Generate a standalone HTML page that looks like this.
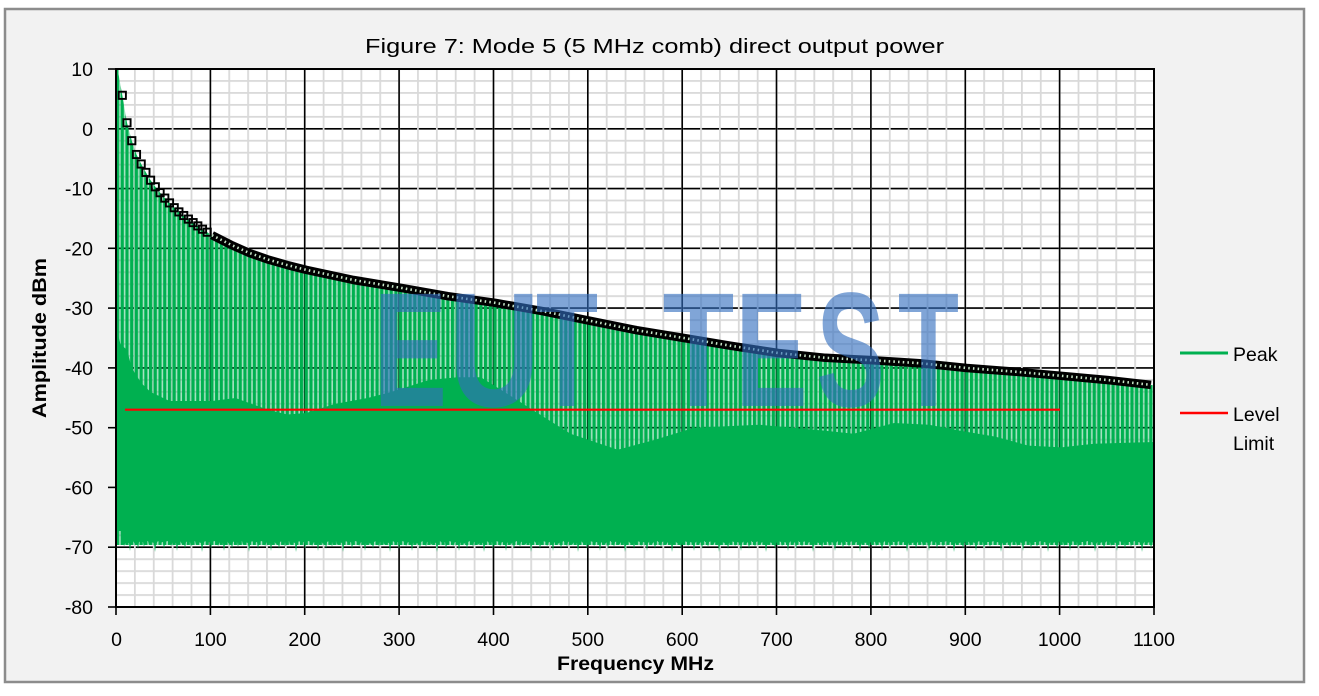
<!DOCTYPE html>
<html><head><meta charset="utf-8">
<style>
html,body{margin:0;padding:0;background:#fff;}
svg{display:block;}
text{font-family:"Liberation Sans",Arial,sans-serif;fill:#000;}
text.wm{fill:rgb(50,110,190);fill-opacity:0.62;font-weight:bold;font-size:163px;}
</style></head>
<body>
<svg width="1319" height="696" viewBox="0 0 1319 696" xmlns="http://www.w3.org/2000/svg">
<defs>
  <clipPath id="plot"><rect x="116" y="69" width="1038" height="538"/></clipPath>
  <pattern id="minorV" patternUnits="userSpaceOnUse" x="115.1" y="0" width="18.8727" height="700">
    <rect x="0" y="0" width="1.8" height="700" fill="#d9d9d9"/>
  </pattern>
  <pattern id="minorH" patternUnits="userSpaceOnUse" x="0" y="68.1" width="1400" height="11.9556">
    <rect x="0" y="0" width="1400" height="1.8" fill="#d9d9d9"/>
  </pattern>
  <pattern id="comb" patternUnits="userSpaceOnUse" x="116.0" y="0" width="4.7182" height="700">
    <rect x="0" y="0" width="4.7182" height="700" fill="#00b050" fill-opacity="0.36"/>
    <rect x="0" y="0" width="3.1" height="700" fill="#00b050"/>
  </pattern>
  <pattern id="teeth" patternUnits="userSpaceOnUse" x="0" y="538" width="47" height="20">
    <polygon fill="#00b050" points="0,0 47,0 47,3 45,4 44,11 43,4 41,6 39,3 37,5 36,13 35,5 32,4 30,8 29,4 26,3 24,5 23,11 22,4 19,5 17,3 15,6 14,14 13,5 10,4 8,7 7,3 4,4 3,9 2,4 0,4"/>
  </pattern>
</defs>

<!-- chart frame -->
<rect x="5" y="9" width="1299" height="673" fill="#f2f2f2" stroke="#8c8c8c" stroke-width="2.5"/>

<!-- plot area -->
<rect x="116" y="69" width="1038" height="538" fill="#ffffff"/>
<g clip-path="url(#plot)">
  <rect x="116" y="69" width="1038" height="538" fill="url(#minorH)"/>
  <g stroke="#000" stroke-width="1.6">
    <line x1="116" y1="128.8" x2="1154" y2="128.8"/>
    <line x1="116" y1="188.6" x2="1154" y2="188.6"/>
    <line x1="116" y1="248.3" x2="1154" y2="248.3"/>
    <line x1="116" y1="308.1" x2="1154" y2="308.1"/>
    <line x1="116" y1="367.9" x2="1154" y2="367.9"/>
    <line x1="116" y1="427.7" x2="1154" y2="427.7"/>
    <line x1="116" y1="487.4" x2="1154" y2="487.4"/>
    <line x1="116" y1="547.2" x2="1154" y2="547.2"/>
  </g>
  <rect x="116" y="69" width="1038" height="538" fill="url(#minorV)"/>
  <g stroke="#000" stroke-width="1.6">
    <line x1="210.4" y1="69" x2="210.4" y2="607"/>
    <line x1="304.7" y1="69" x2="304.7" y2="607"/>
    <line x1="399.1" y1="69" x2="399.1" y2="607"/>
    <line x1="493.5" y1="69" x2="493.5" y2="607"/>
    <line x1="587.8" y1="69" x2="587.8" y2="607"/>
    <line x1="682.2" y1="69" x2="682.2" y2="607"/>
    <line x1="776.5" y1="69" x2="776.5" y2="607"/>
    <line x1="870.9" y1="69" x2="870.9" y2="607"/>
    <line x1="965.3" y1="69" x2="965.3" y2="607"/>
    <line x1="1059.6" y1="69" x2="1059.6" y2="607"/>
  </g>

  <!-- comb spikes -->
  <polygon fill="url(#comb)" points="116,69 117.6,69 122.3,95.3 127,122.8 131.8,140.7 136.5,154.5 141.2,164 145.9,172.4 150.6,180.2 155.3,186.8 160.1,192.7 164.8,198.1 169.5,202.9 174.2,207.7 183.7,215.5 193.1,222.6 202.5,229.2 212,235.2 230.8,244.7 249.7,253.1 268.6,259.7 287.4,265.1 306.3,269.9 353.5,280 400.7,287.8 447.9,296.2 495,302.8 542.2,311.1 589.4,320.7 636.6,330.2 683.8,338 731,345.8 778.1,353 825.3,357.8 872.5,360.3 919.7,363.2 966.8,368 1014,371.6 1061.2,375.8 1108.4,380.1 1155.6,385.4 1155.6,545 116,545"/>
  <rect x="115.5" y="69" width="3" height="456" fill="#00b050"/>
  <!-- solid noise region -->
  <polygon fill="#00b050" points="116,326 120.4,344 127,350 131.8,368 141.2,383 150.6,392 169.5,401 212,401 235.5,398 268.6,410 287.4,414.5 306.3,413 334.6,404 367.6,398 391.2,392 429,380 457.3,377.3 480.9,377.3 504.5,392 532.8,410 570.5,433.7 617.7,449.8 655.5,439.6 694.1,427.7 759.3,424.7 825.3,430.7 853.6,433.7 894.2,423 929.1,424.7 960.2,430.7 995.2,436.6 1028.2,445.6 1061.2,447.4 1094.2,443.8 1154,442 1154,541 121,541 121,531 118,531 118,525 116,525"/>
  <rect x="121" y="538" width="1033" height="20" fill="url(#teeth)"/>

  <!-- limit line -->
  <line x1="125" y1="409.7" x2="1060" y2="409.7" stroke="#ff0000" stroke-width="2.2"/>

  <!-- peak markers -->
  <g fill="none" stroke="#000" stroke-width="1.9">
    <rect x="118.7" y="91.7" width="7.2" height="7.2"/>
    <rect x="123.4" y="119.2" width="7.2" height="7.2"/>
    <rect x="128.2" y="137.1" width="7.2" height="7.2"/>
    <rect x="132.9" y="150.9" width="7.2" height="7.2"/>
    <rect x="137.6" y="160.4" width="7.2" height="7.2"/>
    <rect x="142.3" y="168.8" width="7.2" height="7.2"/>
    <rect x="147" y="176.6" width="7.2" height="7.2"/>
    <rect x="151.7" y="183.2" width="7.2" height="7.2"/>
    <rect x="156.5" y="189.1" width="7.2" height="7.2"/>
    <rect x="161.2" y="194.5" width="7.2" height="7.2"/>
    <rect x="165.9" y="199.3" width="7.2" height="7.2"/>
    <rect x="170.6" y="204.1" width="7.2" height="7.2"/>
    <rect x="175.3" y="208.3" width="7.2" height="7.2"/>
    <rect x="180.1" y="211.9" width="7.2" height="7.2"/>
    <rect x="184.8" y="215.5" width="7.2" height="7.2"/>
    <rect x="189.5" y="219" width="7.2" height="7.2"/>
    <rect x="194.2" y="222.3" width="7.2" height="7.2"/>
    <rect x="198.9" y="225.6" width="7.2" height="7.2"/>
    <rect x="203.6" y="228.6" width="7.2" height="7.2"/>
  </g>
  <polyline fill="none" stroke="#000" stroke-width="8.5" stroke-linejoin="round" points="212,235.2 230.8,244.7 249.7,253.1 268.6,259.7 287.4,265.1 306.3,269.9 353.5,280 400.7,287.8 447.9,296.2 495,302.8 542.2,311.1 589.4,320.7 636.6,330.2 683.8,338 731,345.8 778.1,353 825.3,357.8 872.5,360.3 919.7,363.2 966.8,368 1014,371.6 1061.2,375.8 1108.4,380.1 1151,384.9"/>
  <polyline fill="none" stroke="#c8e6c9" stroke-width="2.6" stroke-dasharray="1.5 3.2" points="212,235.2 230.8,244.7 249.7,253.1 268.6,259.7 287.4,265.1 306.3,269.9 353.5,280 400.7,287.8 447.9,296.2 495,302.8 542.2,311.1 589.4,320.7 636.6,330.2 683.8,338 731,345.8 778.1,353 825.3,357.8 872.5,360.3 919.7,363.2 966.8,368 1014,371.6 1061.2,375.8 1108.4,380.1 1151,384.9"/>
</g>

<!-- plot border -->
<rect x="116" y="69" width="1038" height="538" fill="none" stroke="#000" stroke-width="2"/>

<!-- ticks -->
<g stroke="#000" stroke-width="1.6">
  <line x1="108" y1="69" x2="116" y2="69"/>
  <line x1="108" y1="128.8" x2="116" y2="128.8"/>
  <line x1="108" y1="188.6" x2="116" y2="188.6"/>
  <line x1="108" y1="248.3" x2="116" y2="248.3"/>
  <line x1="108" y1="308.1" x2="116" y2="308.1"/>
  <line x1="108" y1="367.9" x2="116" y2="367.9"/>
  <line x1="108" y1="427.7" x2="116" y2="427.7"/>
  <line x1="108" y1="487.4" x2="116" y2="487.4"/>
  <line x1="108" y1="547.2" x2="116" y2="547.2"/>
  <line x1="108" y1="607" x2="116" y2="607"/>
  <line x1="116" y1="607" x2="116" y2="615"/>
  <line x1="210.4" y1="607" x2="210.4" y2="615"/>
  <line x1="304.7" y1="607" x2="304.7" y2="615"/>
  <line x1="399.1" y1="607" x2="399.1" y2="615"/>
  <line x1="493.5" y1="607" x2="493.5" y2="615"/>
  <line x1="587.8" y1="607" x2="587.8" y2="615"/>
  <line x1="682.2" y1="607" x2="682.2" y2="615"/>
  <line x1="776.5" y1="607" x2="776.5" y2="615"/>
  <line x1="870.9" y1="607" x2="870.9" y2="615"/>
  <line x1="965.3" y1="607" x2="965.3" y2="615"/>
  <line x1="1059.6" y1="607" x2="1059.6" y2="615"/>
  <line x1="1154" y1="607" x2="1154" y2="615"/>
</g>

<!-- y labels -->
<g font-size="19.5" text-anchor="end">
  <text x="93" y="76">10</text>
  <text x="93" y="135.8">0</text>
  <text x="93" y="195.6">-10</text>
  <text x="93" y="255.3">-20</text>
  <text x="93" y="315.1">-30</text>
  <text x="93" y="374.9">-40</text>
  <text x="93" y="434.7">-50</text>
  <text x="93" y="494.4">-60</text>
  <text x="93" y="554.2">-70</text>
  <text x="93" y="614">-80</text>
</g>
<!-- x labels -->
<g font-size="19.5" text-anchor="middle">
  <text x="116.5" y="646">0</text>
  <text x="210.4" y="646">100</text>
  <text x="304.7" y="646">200</text>
  <text x="399.1" y="646">300</text>
  <text x="493.5" y="646">400</text>
  <text x="587.8" y="646">500</text>
  <text x="682.2" y="646">600</text>
  <text x="776.5" y="646">700</text>
  <text x="870.9" y="646">800</text>
  <text x="965.3" y="646">900</text>
  <text x="1059.6" y="646">1000</text>
  <text x="1154" y="646">1100</text>
</g>

<!-- titles -->
<text x="365" y="53" font-size="20.5" textLength="579" lengthAdjust="spacingAndGlyphs">Figure 7: Mode 5 (5 MHz comb) direct output power</text>
<text x="557" y="670" font-size="19" font-weight="bold" textLength="157" lengthAdjust="spacingAndGlyphs">Frequency MHz</text>
<text transform="translate(46,338) rotate(-90)" x="0" y="0" font-size="19" font-weight="bold" text-anchor="middle" textLength="160" lengthAdjust="spacingAndGlyphs">Amplitude dBm</text>

<!-- legend -->
<line x1="1180" y1="353" x2="1228" y2="353" stroke="#00b050" stroke-width="3"/>
<text x="1233" y="361" font-size="19.5">Peak</text>
<line x1="1180" y1="413" x2="1228" y2="413" stroke="#ff0000" stroke-width="2.5"/>
<text x="1233" y="421" font-size="19.5">Level</text>
<text x="1233" y="450" font-size="19.5">Limit</text>

<!-- watermark -->
<text class="wm" x="373.4" y="406" textLength="73.7" lengthAdjust="spacingAndGlyphs">E</text>
<text class="wm" x="448.8" y="406" textLength="91.3" lengthAdjust="spacingAndGlyphs">U</text>
<text class="wm" x="535.9" y="406" textLength="62.2" lengthAdjust="spacingAndGlyphs">T</text>
<text class="wm" x="662.5" y="406" textLength="71.8" lengthAdjust="spacingAndGlyphs">T</text>
<text class="wm" x="735.1" y="406" textLength="72.5" lengthAdjust="spacingAndGlyphs">E</text>
<text class="wm" x="816.4" y="406" textLength="68.4" lengthAdjust="spacingAndGlyphs">S</text>
<text class="wm" x="897.9" y="406" textLength="61.1" lengthAdjust="spacingAndGlyphs">T</text>
</svg>
</body></html>
